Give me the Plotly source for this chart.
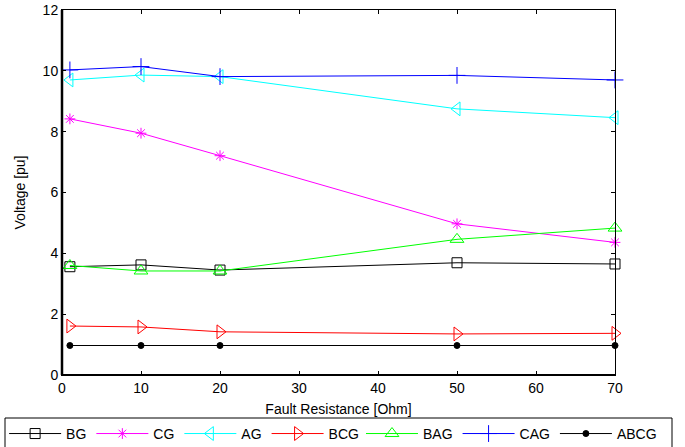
import plotly.graph_objects as go

resistance = [1, 10, 20, 50, 70]
bg = [3.56, 3.62, 3.45, 3.69, 3.65]
cg = [8.42, 7.95, 7.21, 4.97, 4.36]
ag = [9.70, 9.86, 9.81, 8.75, 8.46]
bcg = [1.61, 1.58, 1.42, 1.35, 1.37]
bag = [3.60, 3.42, 3.42, 4.46, 4.83]
cag = [10.03, 10.14, 9.81, 9.85, 9.70]
abcg = [0.97, 0.97, 0.97, 0.97, 0.97]

series = [
    ("BG", bg, "#000000", "square-open", 10, "legend"),
    ("CG", cg, "#ff00ff", "asterisk-open", 9, "legend"),
    ("AG", ag, "#00ffff", "triangle-left-open", 12, "legend"),
    ("BCG", bcg, "#ff0000", "triangle-right-open", 12, "legend"),
    ("BAG", bag, "#00ff00", "triangle-up-open", 12, "legend2"),
    ("CAG", cag, "#0000ff", "cross-thin-open", 12, "legend2"),
    ("ABCG", abcg, "#000000", "circle", 6, "legend2"),
]

fig = go.Figure()
for name, vals, color, sym, size, leg in series:
    fig.add_trace(go.Scatter(
        x=resistance, y=vals, name=name, mode="lines+markers",
        line=dict(color=color, width=1),
        marker=dict(symbol=sym, size=size, color=color, line=dict(color=color, width=1)),
        cliponaxis=False, legend=leg,
    ))

font = "Liberation Sans, Arial, sans-serif"
W, H = 685, 447
ML, MR, MT, MB = 62, 70, 10, 72
pw, ph = W - ML - MR, H - MT - MB

leg_common = dict(
    orientation="h", xref="container", yref="container",
    y=0.065, xanchor="left", yanchor="top",
    borderwidth=0, bgcolor="rgba(0,0,0,0)",
    font=dict(size=14), itemwidth=52, tracegroupgap=0,
)

fig.update_layout(
    width=W, height=H,
    margin=dict(l=ML, r=MR, t=MT, b=MB, autoexpand=False),
    paper_bgcolor="white", plot_bgcolor="white",
    font=dict(family=font, size=14, color="black"),
    showlegend=True,
    legend=dict(x=0.006, **leg_common),
    legend2=dict(x=0.527, **leg_common),
    xaxis=dict(
        range=[0, 70], tickvals=[0, 10, 20, 30, 40, 50, 60, 70],
        ticks="inside", ticklen=4, tickcolor="black",
        showline=True, linecolor="black", linewidth=1, mirror="ticks",
        showgrid=False, zeroline=False,
        title=dict(text="Fault Resistance [Ohm]", font=dict(size=14), standoff=9),
    ),
    yaxis=dict(
        range=[0, 12], tickvals=[0, 2, 4, 6, 8, 10, 12],
        ticks="inside", ticklen=4, tickcolor="black",
        showline=True, linecolor="black", linewidth=1, mirror="ticks",
        showgrid=False, zeroline=False,
        title=dict(text="Voltage [pu]", font=dict(size=14), standoff=13),
    ),
)
fig.add_shape(type="line", xref="paper", yref="paper", x0=0, x1=0, y0=0, y1=1,
              line=dict(color="black", width=2.5))
fig.add_shape(type="line", xref="paper", yref="paper", x0=0, x1=1, y0=0, y1=0,
              line=dict(color="black", width=2))
# legend frame
fig.add_shape(type="rect", xref="paper", yref="paper",
              x0=(5 - ML) / pw, x1=(672 - ML) / pw,
              y0=(MT + ph - 418) / ph, y1=(MT + ph - 452) / ph,
              line=dict(color="black", width=1), fillcolor="rgba(0,0,0,0)")

fig.write_html("out.html", config={"displayModeBar": False},
               post_script="document.body.style.margin='0';")
